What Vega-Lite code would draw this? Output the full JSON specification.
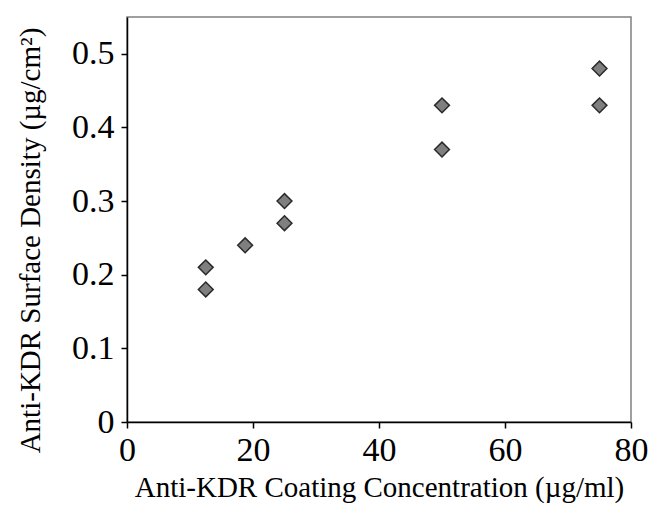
{
  "$schema": "https://vega.github.io/schema/vega-lite/v6.json",
  "autosize": "none",
  "width": 504,
  "height": 405,
  "padding": {"left": 127, "top": 17, "right": 20, "bottom": 86},
  "background": "white",
  "config": {
    "font": "Liberation Serif",
    "view": {"stroke": "#808080", "strokeWidth": 1.5}
  },
  "data": {
    "values": [
      {"conc": 12.5, "density": 0.18},
      {"conc": 12.5, "density": 0.21},
      {"conc": 18.75, "density": 0.24},
      {"conc": 25, "density": 0.27},
      {"conc": 25, "density": 0.30},
      {"conc": 50, "density": 0.37},
      {"conc": 50, "density": 0.43},
      {"conc": 75, "density": 0.43},
      {"conc": 75, "density": 0.48}
    ]
  },
  "mark": {"type": "point", "shape": "diamond", "filled": true, "fill": "#7f7f7f", "stroke": "#2a2a2a", "strokeWidth": 1.5, "size": 220, "opacity": 1},
  "encoding": {
    "x": {
      "field": "conc", "type": "quantitative",
      "scale": {"domain": [0, 80], "nice": false, "zero": true},
      "axis": {
        "title": "Anti-KDR Coating Concentration (µg/ml)",
        "values": [0, 20, 40, 60, 80],
        "grid": false,
        "domainColor": "black", "domainWidth": 1.5,
        "tickColor": "black", "tickWidth": 1.5, "tickSize": 6,
        "labelFontSize": 34, "labelColor": "black", "labelPadding": 5,
        "labelFlush": false,
        "titleFontSize": 29, "titleFontWeight": "normal", "titleColor": "black",
        "titleBaseline": "alphabetic", "titleY": 74
      }
    },
    "y": {
      "field": "density", "type": "quantitative",
      "scale": {"domain": [0, 0.55], "nice": false},
      "axis": {
        "title": "Anti-KDR Surface Density (µg/cm²)",
        "values": [0, 0.1, 0.2, 0.3, 0.4, 0.5],
        "format": ".1~f",
        "grid": false,
        "domainColor": "black", "domainWidth": 1.5,
        "tickColor": "black", "tickWidth": 1.5, "tickSize": 6,
        "labelFontSize": 34, "labelColor": "black", "labelPadding": 7,
        "labelFlush": false,
        "titleFontSize": 29, "titleFontWeight": "normal", "titleColor": "black",
        "titleBaseline": "middle", "titleX": -97, "titleY": 223, "titleAngle": -90
      }
    }
  }
}
